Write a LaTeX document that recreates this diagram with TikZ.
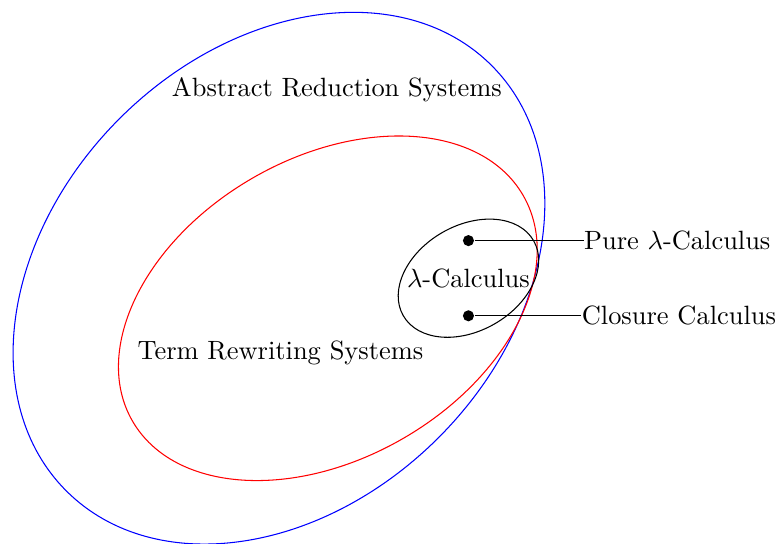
\documentclass[tikz,border=0pt]{standalone}
\usepackage{amsmath}
\usepackage{tikz}
\usetikzlibrary{positioning, calc}

\begin{document}
\begin{tikzpicture}[dot/.style={circle, fill, inner sep=0pt, minimum size=4.2pt},
    tag/.style={inner sep=0pt}]
  \useasboundingbox (-6.23,-3.53) rectangle (4.09,3.70);

  % the three classes
  \draw[blue] (-2.52,0) circle[x radius=4cm, y radius=3cm, rotate=45];
  \draw[red] (-1.87,-0.40) circle[x radius=3cm, y radius=2cm, rotate=30];
  \draw (0,0) circle[x radius=1cm, y radius=0.7cm, rotate=30];

  \node (ars) at (-1.75,2.5) {Abstract Reduction Systems};
  \node (trs) at (-2.5,-1) {Term Rewriting Systems};
  \node (lc) at (0,0) {$\lambda$-Calculus};

  % members
  \node[dot] (pure) at (0,0.5) {};
  \node[dot] (closure) at (0,-0.5) {};
  \node[tag, right=1.45cm of pure] (purelbl) {Pure $\lambda$-Calculus};
  \node[tag, right=1.42cm of closure] (closurelbl) {Closure Calculus};
  \draw (pure) -- (purelbl);
  \draw (closure) -- (closurelbl);
\end{tikzpicture}
\end{document}
